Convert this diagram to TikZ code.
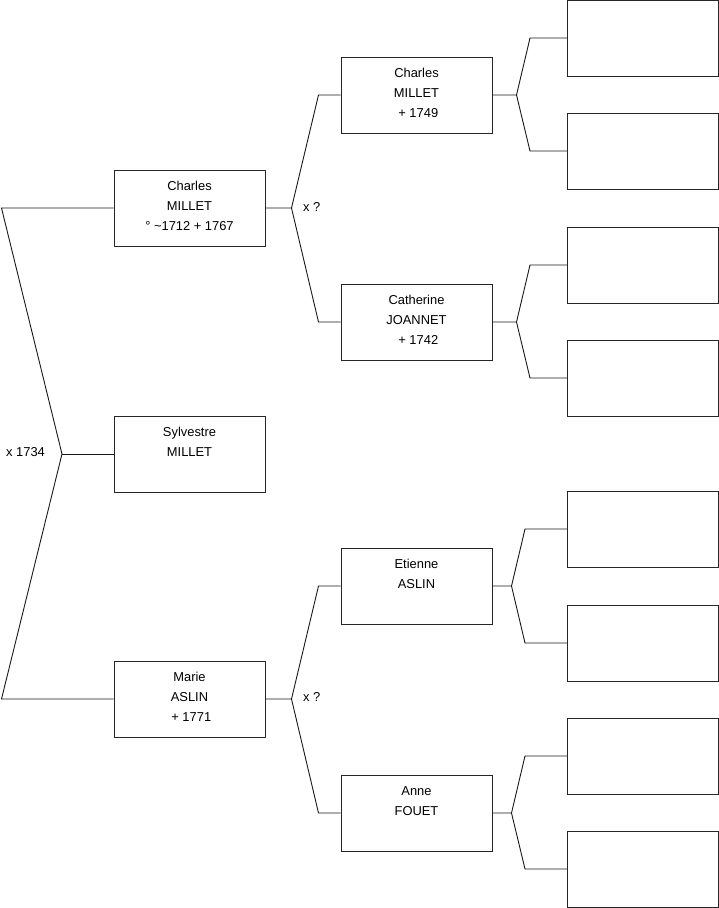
\documentclass[tikz,border=0pt]{standalone}
\usepackage{fontspec}
\setmainfont{Liberation Sans}
\usepackage{tikz}
\usetikzlibrary{positioning}

\newcommand{\pers}[1]{\parbox[c][64pt][t]{145pt}{\fontsize{12.9}{20}\selectfont\centering\strut #1}}

\begin{document}
\begin{tikzpicture}[x=1pt,y=-1pt,
    box/.style={draw=black!85,line width=1pt,minimum width=151pt,minimum height=76pt,inner sep=0pt},
    link/.style={draw=black!90,line width=0.9pt},
    wed/.style={anchor=west,inner sep=0pt,font=\fontsize{12.9}{15}\selectfont}]
  \useasboundingbox (0,0) rectangle (719,908);
  % generation 1
  \node[box] (sm) at (189.5,454) {\pers{Sylvestre\\MILLET}};
  % generation 2
  \node[box] (cm) at (189.5,208) {\pers{Charles\\MILLET\\° \textasciitilde1712 + 1767}};
  \node[box] (ma) at (189.5,699) {\pers{Marie\\ASLIN\\\ + 1771}};
  % generation 3
  \node[box] (cm2) at (416.5,95) {\pers{Charles\\MILLET\\\ + 1749}};
  \node[box] (cj) at (416.5,322) {\pers{Catherine\\JOANNET\\\ + 1742}};
  \node[box] (ea) at (416.5,586) {\pers{Etienne\\ASLIN}};
  \node[box] (af) at (416.5,813) {\pers{Anne\\FOUET}};
  % generation 4 (unknown)
  \node[box] (g1) at (643,38) {};
  \node[box] (g2) at (643,151) {};
  \node[box] (g3) at (643,265) {};
  \node[box] (g4) at (643,378) {};
  \node[box] (g5) at (643,529) {};
  \node[box] (g6) at (643,643) {};
  \node[box] (g7) at (643,756) {};
  \node[box] (g8) at (643,869) {};

  % parents of Sylvestre
  \coordinate (r) at (62,454);
  \draw[link] (r) -- (sm.west);
  \draw[link] (cm.west) -- ([xshift=-112pt]cm.west) -- (r);
  \draw[link] (ma.west) -- ([xshift=-112pt]ma.west) -- (r);
  \node[wed] (w0) at (6,452) {x 1734};

  % parents of Charles
  \draw[link] (cm.east) -- ++(26,0) coordinate (j1) -- ([xshift=-22pt]cm2.west) -- (cm2.west);
  \draw[link] (j1) -- ([xshift=-22pt]cj.west) -- (cj.west);
  \node[wed] (w1) at (303,207) {x ?};

  % parents of Marie
  \draw[link] (ma.east) -- ++(26,0) coordinate (j2) -- ([xshift=-22pt]ea.west) -- (ea.west);
  \draw[link] (j2) -- ([xshift=-22pt]af.west) -- (af.west);
  \node[wed] (w2) at (303,697) {x ?};

  % great-grandparents
  \draw[link] (cm2.east) -- ++(24,0) coordinate (j3) -- ([xshift=-37pt]g1.west) -- (g1.west);
  \draw[link] (j3) -- ([xshift=-37pt]g2.west) -- (g2.west);
  \draw[link] (cj.east) -- ++(24,0) coordinate (j4) -- ([xshift=-37pt]g3.west) -- (g3.west);
  \draw[link] (j4) -- ([xshift=-37pt]g4.west) -- (g4.west);
  \draw[link] (ea.east) -- ++(19,0) coordinate (j5) -- ([xshift=-42pt]g5.west) -- (g5.west);
  \draw[link] (j5) -- ([xshift=-42pt]g6.west) -- (g6.west);
  \draw[link] (af.east) -- ++(19,0) coordinate (j6) -- ([xshift=-42pt]g7.west) -- (g7.west);
  \draw[link] (j6) -- ([xshift=-42pt]g8.west) -- (g8.west);
\end{tikzpicture}
\end{document}
